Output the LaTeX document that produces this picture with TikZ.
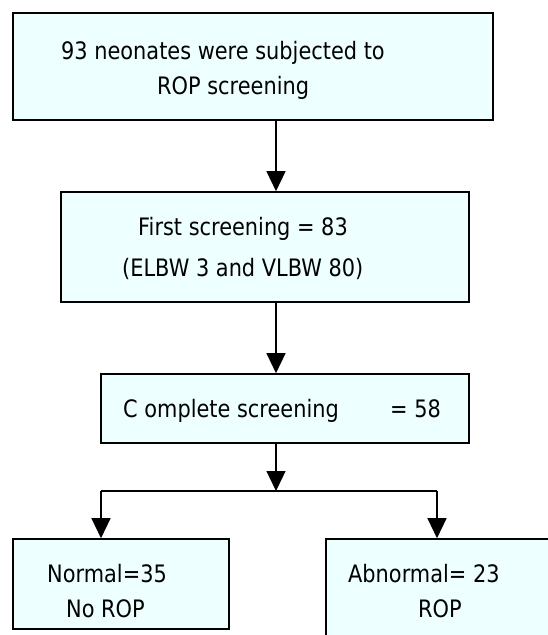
\documentclass[tikz,border=0pt]{standalone}
\usepackage{fontspec}
\setmainfont{DejaVu Sans}[FakeStretch=0.87]
\usetikzlibrary{arrows.meta}
\definecolor{boxfill}{RGB}{238,255,255}

\begin{document}
\begin{tikzpicture}[
	x=1pt, y=-1pt,
	box/.style={ draw, line width=1.6pt, fill=boxfill, inner sep=0pt },
	txt/.style={ anchor=base west, inner sep=0pt, font=\fontsize{24}{28}\selectfont },
	wire/.style={ line width=1.3pt },
	link/.style={ line width=1.3pt, -{Triangle[width=19pt,length=20pt]} }
]
\useasboundingbox (0,0) rectangle (548,635);

\node at (253,66.5) (screen) [box,minimum width=480pt,minimum height=107pt] {};
\node at (265,247) (first) [box,minimum width=408pt,minimum height=110pt] {};
\node at (285,408.5) (complete) [box,minimum width=368pt,minimum height=69pt] {};
\node at (121,584) (normal) [box,minimum width=216pt,minimum height=90pt] {};
\node at (443,594.5) (abnormal) [box,minimum width=234pt,minimum height=111pt] {};

\node at (61,59) (screenA) [txt] {93 neonates were subjected to};
\node at (157,94) (screenB) [txt] {ROP screening};
\node at (138,235) (firstA) [txt] {First screening = 83};
\node at (122,276) (firstB) [txt] {(ELBW 3 and VLBW 80)};
\node at (123,417) (completeA) [txt] {C omplete screening};
\node at (390,417) (completeB) [txt] {= 58};
\node at (47,582) (normalA) [txt] {Normal=35};
\node at (66,617) (normalB) [txt] {No ROP};
\node at (348,582) (abnormalA) [txt] {Abnormal= 23};
\node at (418,617) (abnormalB) [txt] {ROP};

% main line and the split below it
\coordinate (spine) at (276,0);
\coordinate (split) at (276,491);
\coordinate (lbranch) at (101,491);
\coordinate (rbranch) at (437,491);

\draw[link] (screen.south -| spine) -- (first.north -| spine);
\draw[link] (first.south -| spine) -- (complete.north -| spine);
\draw[link] (complete.south -| spine) -- (split);
\draw[wire] (lbranch) -- (rbranch);
\draw[link] (lbranch) -- (lbranch |- normal.north);
\draw[link] (rbranch) -- (rbranch |- abnormal.north);

\end{tikzpicture}
\end{document}
